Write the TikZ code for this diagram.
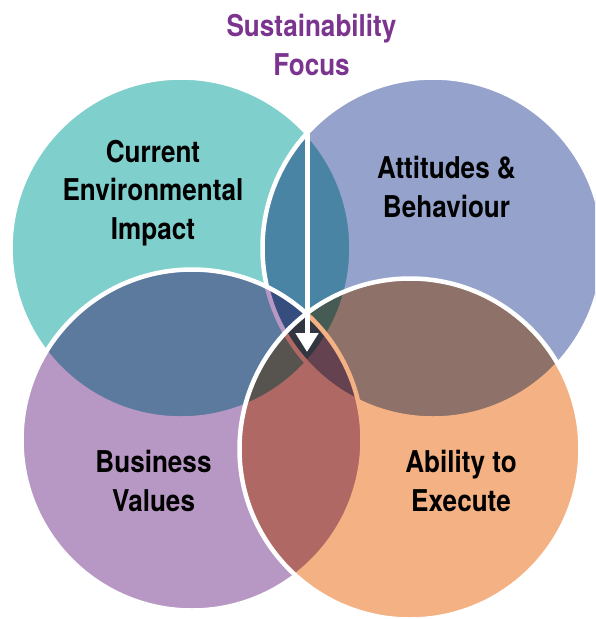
\documentclass[tikz,border=0pt]{standalone}
\usepackage{fontspec}
\setmainfont{TeX Gyre Heros}[FakeStretch=0.87]
\usetikzlibrary{arrows.meta}
\definecolor{tealc}{RGB}{127,207,205}
\definecolor{bluec}{RGB}{149,163,204}
\definecolor{purplec}{RGB}{183,151,196}
\definecolor{orangec}{RGB}{244,177,131}
\definecolor{titlec}{RGB}{123,53,143}
\tikzset{
  disc/.style={fill=#1, blend mode=multiply},
  rim/.style={draw=white, line width=4.5pt},
  lbl/.style={font=\bfseries\fontsize{30}{38.5}\selectfont, align=center, text=black}
}
\begin{document}
\begin{tikzpicture}[x=1pt,y=-1pt]
\useasboundingbox (0,0) rectangle (595,619);
\clip (0,0) rectangle (595,619);
% the four circles, each one multiplied over the ones below
\fill[disc=tealc] (181,248) circle (170.5pt);
\draw[rim] (181,248) circle (170.5pt);
\fill[disc=bluec] (433,248) circle (170.5pt);
\draw[rim] (433,248) circle (170.5pt);
\fill[disc=purplec] (192,440) circle (170.5pt);
\draw[rim] (192,440) circle (170.5pt);
\fill[disc=orangec] (410,449) circle (170.5pt);
\draw[rim] (410,449) circle (170.5pt);
% labels
\node[lbl] (impact) at (153,193) {Current\\Environmental\\Impact};
\node[lbl] (attitudes) at (446.5,187) {Attitudes \&\\Behaviour};
\node[lbl] (values) at (153.5,481) {Business\\Values};
\node[lbl] (execute) at (461,481) {Ability to\\Execute};
\node[lbl, text=titlec] (focus) at (311.5,45) {Sustainability\\Focus};
% arrow down into the middle
\coordinate (top) at (307,134);
\coordinate (tip) at (307,352);
\draw[white, line width=5pt, -{Triangle[width=22pt,length=19pt]}] (top) -- (tip);
\end{tikzpicture}
\end{document}
